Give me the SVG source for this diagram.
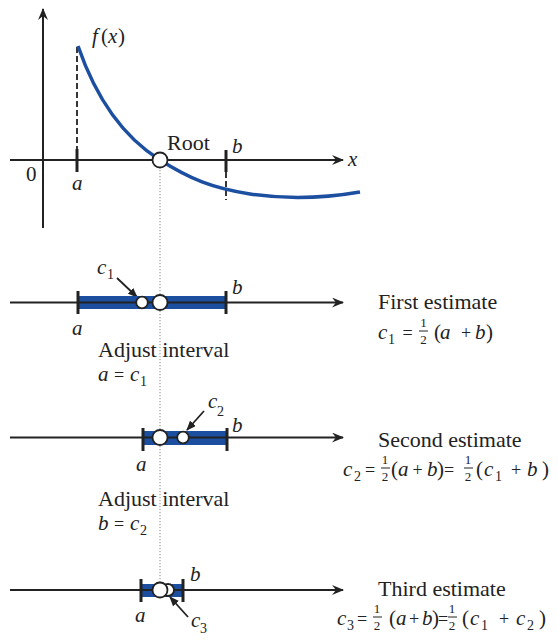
<svg xmlns="http://www.w3.org/2000/svg" width="558" height="640" viewBox="0 0 558 640">
<style>
.ax{stroke:#222;stroke-width:2;fill:none}
.tk{stroke:#222;stroke-width:3;fill:none}
.bar{fill:#1d4fa0}
.pt{fill:#fff;stroke:#222;stroke-width:1.8}
.t{font-family:"Liberation Serif",serif;font-size:21px;fill:#222}
.w{font-family:"Liberation Serif",serif;font-size:22px;fill:#222}
.i{font-family:"Liberation Serif",serif;font-style:italic;font-size:21px;fill:#222}
.o{font-family:"Liberation Serif",serif;font-size:18px;fill:#222;text-anchor:middle}
.s{font-family:"Liberation Serif",serif;font-size:14px;fill:#222}
.f{font-family:"Liberation Serif",serif;font-size:13px;fill:#222;text-anchor:middle}
.fl{stroke:#222;stroke-width:1}
</style>
<defs>
<marker id="ah" viewBox="0 0 12 10" refX="11" refY="5" markerWidth="12" markerHeight="10" markerUnits="userSpaceOnUse" orient="auto">
<path d="M0,0 L12,5 L0,10 L4,5 z" fill="#222"/>
</marker>
<marker id="sa" viewBox="0 0 10 8" refX="9" refY="4" markerWidth="10" markerHeight="8" markerUnits="userSpaceOnUse" orient="auto">
<path d="M0,0 L10,4 L0,8 z" fill="#222"/>
</marker>
</defs>

<g id="graph">
<line class="ax" x1="43" y1="228" x2="43" y2="9" marker-end="url(#ah)"/>
<line class="ax" x1="10" y1="160" x2="343" y2="160" marker-end="url(#ah)"/>
<line x1="77" y1="47" x2="77" y2="150" stroke="#222" stroke-width="1.8" stroke-dasharray="6,3"/>
<line x1="226" y1="172" x2="226" y2="200" stroke="#222" stroke-width="1.8" stroke-dasharray="6,3"/>
<line class="tk" x1="77" y1="149" x2="77" y2="172"/>
<line class="tk" x1="226" y1="150" x2="226" y2="172"/>
<path d="M78,46 C98,104 128,140 160,160 C190,179 212,188 250,194 C290,200 325,198 360,192" fill="none" stroke="#1d4fa0" stroke-width="3.5"/>
<text class="i" x="92" y="43">f</text><text class="t" x="101" y="43">(</text><text class="i" x="108" y="43">x</text><text class="t" x="118" y="43">)</text>
<text class="t" x="26" y="181">0</text>
<text class="i" x="72" y="190">a</text>
<text class="i" x="232" y="153">b</text>
<text class="i" x="348" y="166">x</text>
<text class="w" x="167" y="150">Root</text>
</g>

<g id="connectors">
<line x1="160" y1="167" x2="160" y2="590" stroke="#888" stroke-width="1" stroke-dasharray="1.2,1.8"/>
<line x1="117" y1="278" x2="137" y2="297" stroke="#222" stroke-width="1.8" marker-end="url(#sa)"/>
<line x1="204" y1="411" x2="187" y2="430" stroke="#222" stroke-width="1.8" marker-end="url(#sa)"/>
<line x1="188" y1="617" x2="170" y2="597" stroke="#222" stroke-width="1.8" marker-end="url(#sa)"/>
</g>

<g id="root">
<circle class="pt" cx="160" cy="160" r="7.5"/>
</g>

<g id="line1">
<rect class="bar" x="78" y="296" width="148" height="13"/>
<line class="ax" x1="10" y1="302.5" x2="343" y2="302.5" marker-end="url(#ah)"/>
<line class="tk" x1="78" y1="291" x2="78" y2="314"/>
<line class="tk" x1="226" y1="291" x2="226" y2="314"/>
<circle class="pt" cx="142" cy="302.5" r="5.8"/>
<circle class="pt" cx="160" cy="302.5" r="7.5"/>
<text class="i" x="97" y="274">c</text><text class="s" x="107" y="279">1</text>
<text class="i" x="232" y="294">b</text>
<text class="i" x="72" y="335">a</text>
<text class="w" x="98" y="357">Adjust interval</text>
<text class="i" x="98" y="381">a</text><text class="o" x="119" y="381">=</text><text class="i" x="130" y="381">c</text><text class="s" x="140" y="386">1</text>
</g>

<g id="est1">
<text class="w" x="378" y="309">First estimate</text>
<text class="i" x="378" y="339">c</text><text class="s" x="388" y="344">1</text>
<text class="o" x="407.5" y="339">=</text>
<text class="f" x="423.5" y="327">1</text><line class="fl" x1="419" y1="331" x2="428" y2="331"/><text class="f" x="423.5" y="344">2</text>
<text class="t" x="434" y="339">(</text><text class="i" x="440" y="339">a</text><text class="o" x="466" y="339">+</text><text class="i" x="475" y="339">b</text><text class="t" x="486" y="339">)</text>
</g>

<g id="line2">
<rect class="bar" x="143" y="431" width="84" height="14"/>
<line class="ax" x1="10" y1="437.5" x2="343" y2="437.5" marker-end="url(#ah)"/>
<line class="tk" x1="143" y1="428" x2="143" y2="451"/>
<line class="tk" x1="227" y1="428" x2="227" y2="451"/>
<circle class="pt" cx="160" cy="437.5" r="7.5"/>
<circle class="pt" cx="183" cy="437.5" r="5.8"/>
<text class="i" x="208" y="408">c</text><text class="s" x="217" y="416">2</text>
<text class="i" x="232" y="432">b</text>
<text class="i" x="136" y="471">a</text>
<text class="w" x="98" y="506">Adjust interval</text>
<text class="i" x="98" y="530">b</text><text class="o" x="119" y="530">=</text><text class="i" x="130" y="530">c</text><text class="s" x="140" y="535">2</text>
</g>

<g id="est2">
<text class="w" x="378" y="447">Second estimate</text>
<text class="i" x="343" y="476">c</text><text class="s" x="354" y="481">2</text>
<text class="o" x="370" y="476">=</text>
<text class="f" x="385" y="464">1</text><line class="fl" x1="381" y1="468" x2="390" y2="468"/><text class="f" x="385" y="481">2</text>
<text class="t" x="391" y="476">(</text><text class="i" x="398" y="476">a</text><text class="o" x="417.5" y="476">+</text><text class="i" x="427" y="476">b</text><text class="t" x="437" y="476">)</text>
<text class="o" x="449" y="476">=</text>
<text class="f" x="468" y="464">1</text><line class="fl" x1="464" y1="468" x2="473" y2="468"/><text class="f" x="468" y="481">2</text>
<text class="t" x="476" y="476">(</text><text class="i" x="484" y="476">c</text><text class="s" x="495" y="481">1</text><text class="o" x="516" y="476">+</text><text class="i" x="527" y="476">b</text><text class="t" x="542" y="476">)</text>
</g>

<g id="line3">
<rect class="bar" x="141" y="584" width="42" height="13"/>
<line class="ax" x1="10" y1="590" x2="343" y2="590" marker-end="url(#ah)"/>
<line class="tk" x1="141" y1="579" x2="141" y2="602"/>
<line class="tk" x1="183" y1="579" x2="183" y2="602"/>
<circle class="pt" cx="168" cy="590" r="6"/>
<circle class="pt" cx="160" cy="590" r="7.5"/>
<text class="i" x="190" y="581">b</text>
<text class="i" x="135" y="622">a</text>
<text class="i" x="191" y="627">c</text><text class="s" x="200" y="633">3</text>
</g>

<g id="est3">
<text class="w" x="378" y="596">Third estimate</text>
<text class="i" x="337" y="625">c</text><text class="s" x="347" y="630">3</text>
<text class="o" x="362" y="625">=</text>
<text class="f" x="377" y="613">1</text><line class="fl" x1="373" y1="617" x2="382" y2="617"/><text class="f" x="377" y="630">2</text>
<text class="t" x="389" y="625">(</text><text class="i" x="396" y="625">a</text><text class="o" x="414" y="625">+</text><text class="i" x="422" y="625">b</text><text class="t" x="432" y="625">)</text>
<text class="o" x="443" y="625">=</text>
<text class="f" x="452" y="613">1</text><line class="fl" x1="448" y1="617" x2="457" y2="617"/><text class="f" x="452" y="630">2</text>
<text class="t" x="462" y="625">(</text><text class="i" x="470" y="625">c</text><text class="s" x="481" y="630">1</text><text class="o" x="504" y="625">+</text><text class="i" x="516" y="625">c</text><text class="s" x="527" y="630">2</text><text class="t" x="539" y="625">)</text>
</g>
</svg>
